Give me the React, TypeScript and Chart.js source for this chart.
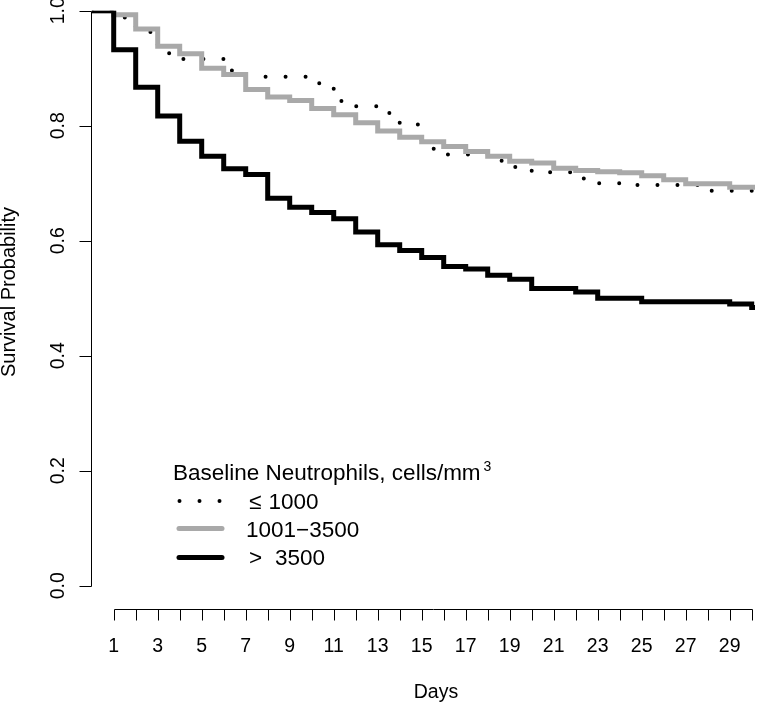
import React, { useEffect, useRef } from "react";
import { Chart, registerables } from "chart.js";

Chart.register(...registerables);

// ---- data ----
// step times (days); the last entry is the end of follow-up
const DAYS = [0, 1, 2, 3, 4, 5, 6, 7, 8, 9, 10, 11, 12, 13, 14, 15, 16, 17, 18, 19, 20, 21, 22, 23, 24, 25, 26, 27, 28, 29, 30, 30.15];

// survival probability from each step time onwards
const LOW_1000 = [1.0, 0.988, 0.963, 0.926, 0.916, 0.916, 0.896, 0.885, 0.885, 0.885, 0.874, 0.843, 0.834, 0.822, 0.802, 0.760, 0.750, 0.750, 0.739, 0.728, 0.719, 0.719, 0.708, 0.700, 0.697, 0.697, 0.697, 0.697, 0.687, 0.687, 0.687];
const MID_1001_3500 = [1.0, 0.993, 0.968, 0.938, 0.925, 0.900, 0.889, 0.863, 0.850, 0.844, 0.830, 0.819, 0.805, 0.791, 0.780, 0.772, 0.764, 0.755, 0.747, 0.738, 0.735, 0.726, 0.722, 0.720, 0.718, 0.713, 0.706, 0.699, 0.699, 0.693, 0.693];
const HIGH_3500 = [1.0, 0.932, 0.867, 0.817, 0.773, 0.747, 0.725, 0.715, 0.674, 0.658, 0.649, 0.638, 0.615, 0.593, 0.583, 0.571, 0.555, 0.551, 0.540, 0.533, 0.517, 0.517, 0.511, 0.500, 0.500, 0.494, 0.494, 0.494, 0.494, 0.490, 0.484];

const Y_TICKS = [0, 0.2, 0.4, 0.6, 0.8, 1.0];
const Y_TICK_LABELS = ["0.0", "0.2", "0.4", "0.6", "0.8", "1.0"];
const X_TICKS = [1, 2, 3, 4, 5, 6, 7, 8, 9, 10, 11, 12, 13, 14, 15, 16, 17, 18, 19, 20, 21, 22, 23, 24, 25, 26, 27, 28, 29, 30];
const X_TICK_LABELS = ["1", "3", "5", "7", "9", "11", "13", "15", "17", "19", "21", "23", "25", "27", "29"];
const X_LABEL_DAYS = [1, 3, 5, 7, 9, 11, 13, 15, 17, 19, 21, 23, 25, 27, 29];

const LEGEND_TITLE = "Baseline Neutrophils, cells/mm";
const LEGEND_SUP = "3";
const SERIES_NAMES = ["≤", "1000", "1001−3500", ">", "3500"];

const GRAY = "#a9a9a9";
const FONT = "'Liberation Sans', Arial, Helvetica, sans-serif";

const X_MIN = 0;
const X_MAX = 30.15;

function toPoints(vals: number[]) {
  return DAYS.map((d, i) => ({ x: d, y: vals[Math.min(i, vals.length - 1)] }));
}

const rAxesPlugin = {
  id: "rAxes",
  afterDraw(chart: any) {
    const ctx = chart.ctx as CanvasRenderingContext2D;
    const xs = chart.scales.x;
    const ys = chart.scales.y;
    ctx.save();
    ctx.strokeStyle = "#000";
    ctx.fillStyle = "#000";
    ctx.lineWidth = 1;
    ctx.setLineDash([]);
    ctx.lineCap = "butt";

    // y axis
    const yAxisX = Math.round(xs.getPixelForValue(0)) - 0.5;
    ctx.beginPath();
    ctx.moveTo(yAxisX, Math.round(ys.getPixelForValue(0)) + 0.5);
    ctx.lineTo(yAxisX, Math.round(ys.getPixelForValue(1)) + 0.5);
    Y_TICKS.forEach((t) => {
      const py = Math.round(ys.getPixelForValue(t)) + 0.5;
      ctx.moveTo(yAxisX, py);
      ctx.lineTo(yAxisX - 12, py);
    });
    ctx.stroke();

    ctx.font = `19.5px ${FONT}`;
    ctx.textAlign = "center";
    ctx.textBaseline = "alphabetic";
    Y_TICKS.forEach((t, i) => {
      const py = ys.getPixelForValue(t);
      ctx.save();
      ctx.translate(63.5, py);
      ctx.rotate(-Math.PI / 2);
      ctx.fillText(Y_TICK_LABELS[i], 0, 0);
      ctx.restore();
    });

    // y title
    ctx.save();
    ctx.font = `20px ${FONT}`;
    ctx.translate(15, 292);
    ctx.rotate(-Math.PI / 2);
    ctx.fillText("Survival Probability", 0, 0);
    ctx.restore();

    // x axis
    const xAxisY = 609.5;
    ctx.beginPath();
    ctx.moveTo(Math.round(xs.getPixelForValue(X_TICKS[0])) + 0.5, xAxisY);
    ctx.lineTo(Math.round(xs.getPixelForValue(X_TICKS[X_TICKS.length - 1])) + 0.5, xAxisY);
    X_TICKS.forEach((t) => {
      const px = Math.round(xs.getPixelForValue(t)) + 0.5;
      ctx.moveTo(px, xAxisY);
      ctx.lineTo(px, xAxisY + 11);
    });
    ctx.stroke();

    ctx.font = `19.5px ${FONT}`;
    X_LABEL_DAYS.forEach((d, i) => {
      ctx.fillText(X_TICK_LABELS[i], xs.getPixelForValue(d), 652);
    });
    ctx.fillText("Days", 436, 698);

    // legend
    ctx.textAlign = "left";
    ctx.font = `22.5px ${FONT}`;
    ctx.fillText(LEGEND_TITLE, 173, 480);
    const tw = ctx.measureText(LEGEND_TITLE).width;
    ctx.font = `14px ${FONT}`;
    ctx.fillText(LEGEND_SUP, 173 + tw + 3, 471);

    // samples
    ctx.lineCap = "round";
    ctx.strokeStyle = "#000";
    ctx.lineWidth = 4;
    ctx.setLineDash([0, 20]);
    ctx.beginPath();
    ctx.moveTo(179.5, 501);
    ctx.lineTo(223, 501);
    ctx.stroke();
    ctx.setLineDash([]);
    ctx.lineWidth = 5;
    ctx.strokeStyle = GRAY;
    ctx.beginPath();
    ctx.moveTo(179, 528.5);
    ctx.lineTo(222, 528.5);
    ctx.stroke();
    ctx.strokeStyle = "#000";
    ctx.beginPath();
    ctx.moveTo(179, 557.5);
    ctx.lineTo(222, 557.5);
    ctx.stroke();

    ctx.font = `22.5px ${FONT}`;
    ctx.fillStyle = "#000";
    ctx.fillText(SERIES_NAMES[0], 249, 508.5);
    ctx.fillText(SERIES_NAMES[1], 268.5, 508.5);
    ctx.fillText(SERIES_NAMES[2], 246, 536.5);
    ctx.fillText(SERIES_NAMES[3], 249, 565);
    ctx.fillText(SERIES_NAMES[4], 275, 565);

    ctx.restore();
  },
};

export default function App() {
  const ref = useRef<HTMLCanvasElement | null>(null);

  useEffect(() => {
    document.body.style.margin = "0";
    const canvas = ref.current;
    if (!canvas) return;
    const chart = new Chart(canvas, {
      type: "line",
      data: {
        datasets: [
          {
            label: "> 3500",
            data: toPoints(HIGH_3500),
            borderColor: "#000",
            borderWidth: 5,
            stepped: "before",
            pointRadius: 0,
            fill: false,
            order: 0,
          },
          {
            label: "1001−3500",
            data: toPoints(MID_1001_3500),
            borderColor: GRAY,
            borderWidth: 5,
            stepped: "before",
            pointRadius: 0,
            fill: false,
            order: 1,
          },
          {
            label: "≤ 1000",
            data: toPoints(LOW_1000),
            borderColor: "#000",
            borderWidth: 4,
            borderDash: [0, 20],
            borderCapStyle: "round",
            stepped: "before",
            pointRadius: 0,
            fill: false,
            order: 2,
          },
        ],
      } as any,
      options: {
        animation: false,
        responsive: false,
        devicePixelRatio: 1,
        events: [],
        layout: { padding: { left: 91.7, right: 758 - 91.7 - 22 * (X_MAX - X_MIN), top: 10.7, bottom: 704 - 585.7 } },
        scales: {
          x: { type: "linear", min: X_MIN, max: X_MAX, display: false },
          y: { type: "linear", min: 0, max: 1, display: false },
        },
        plugins: {
          legend: { display: false },
          tooltip: { enabled: false },
        },
      } as any,
      plugins: [rAxesPlugin],
    });
    return () => chart.destroy();
  }, []);

  return (
    <div style={{ width: 758, height: 704, background: "#fff" }}>
      <canvas ref={ref} width={758} height={704} style={{ display: "block" }} />
    </div>
  );
}
